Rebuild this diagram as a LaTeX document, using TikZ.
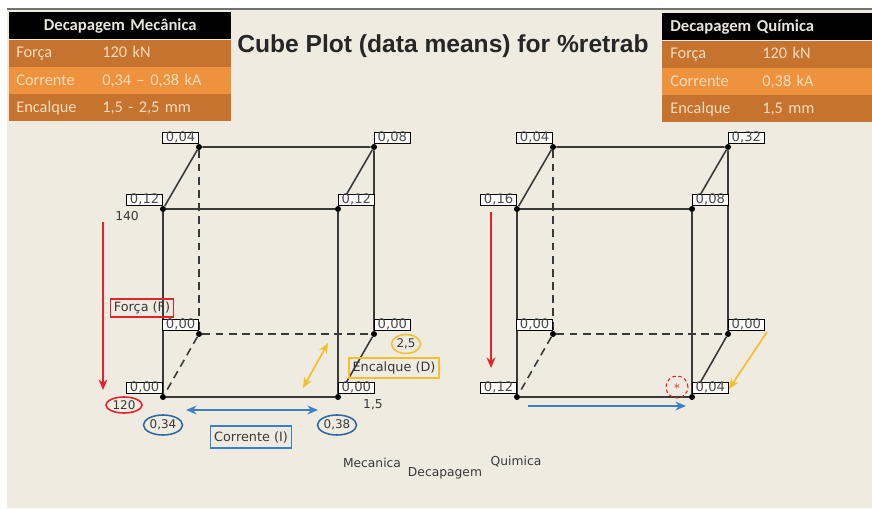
\documentclass[tikz,border=0pt]{standalone}
\usepackage{fontspec}
\setmainfont{DejaVu Sans}
\newfontfamily\tablefont{Carlito}
\newfontfamily\titlefont{Liberation Sans}
\usetikzlibrary{arrows.meta,positioning,shapes.geometric}

\definecolor{paper}{HTML}{EFEBE1}
\definecolor{rust}{HTML}{C6732F}
\definecolor{amber}{HTML}{EF923D}
\definecolor{cream}{HTML}{F7DCBC}
\definecolor{headtext}{HTML}{E6E4DC}
\definecolor{edgegray}{HTML}{3A3A3A}
\definecolor{inkgray}{HTML}{383838}
\definecolor{redmark}{HTML}{E2232B}
\definecolor{bluemark}{HTML}{3A80C6}
\definecolor{ringblue}{HTML}{2F6AA3}
\definecolor{goldmark}{HTML}{F3BF2F}

\begin{document}
\begin{tikzpicture}[x=0.02cm, y=-0.02cm, font=\fontsize{7}{8}\selectfont, text=inkgray,
  thead/.style={fill=black, text=headtext, font=\tablefont\bfseries\fontsize{9.5}{11}\selectfont, minimum height=0.54cm, inner ysep=0pt, anchor=north west},
  trow/.style={text=cream, font=\tablefont\fontsize{9.3}{10}\selectfont, minimum height=0.53cm, inner ysep=0pt},
  dot/.style={circle, fill=black, inner sep=0pt, minimum size=0.12cm},
  cubeline/.style={draw=edgegray, line width=0.9pt},
  hidden/.style={cubeline, dash pattern=on 4.5pt off 3pt},
  val/.style={draw=black, line width=0.4pt, fill=white!85!paper, inner sep=0pt, minimum width=0.72cm, minimum height=0.22cm, text=black!70, font=\fontsize{7.5}{8}\selectfont},
  ring/.style={ellipse, draw, line width=0.9pt, inner sep=0pt, font=\fontsize{6.8}{8}\selectfont},
  tag/.style={draw, line width=0.9pt, inner xsep=2pt, inner ysep=0pt, font=\fontsize{7.3}{8}\selectfont},
  arr/.style={-{Stealth[length=6pt, width=5pt]}, line width=1pt},
  darr/.style={arr, {Stealth[length=6pt, width=5pt]}-{Stealth[length=6pt, width=5pt]}}]
\useasboundingbox (0,0) rectangle (872,509);
\fill[white] (0,0) rectangle (872,509);
\fill[paper] (7,9) rectangle (872,508);
\draw[black!55, line width=1.2pt] (7,9) -- (872,9);

% settings tables
\node[thead, text width=4.16cm, align=center, inner xsep=0.14cm] (mhead) at (9,12) {Decapagem Mecânica};
\node[trow, fill=rust, text width=4.16cm, inner xsep=0.14cm, below=0pt of mhead] (mforce) {\makebox[1.72cm][l]{Força}120 kN};
\node[trow, fill=amber, text width=4.16cm, inner xsep=0.14cm, below=0pt of mforce] (mcurrent) {\makebox[1.72cm][l]{Corrente}0,34 – 0,38 kA};
\node[trow, fill=rust, text width=4.16cm, inner xsep=0.14cm, below=0pt of mcurrent] (mpress) {\makebox[1.72cm][l]{Encalque}1,5 - 2,5 mm};

\node[thead, text width=3.88cm, align=left, inner xsep=0.16cm] (qhead) at (662,13) {Decapagem Química};
\node[trow, fill=rust, text width=3.88cm, inner xsep=0.16cm, below=0pt of qhead] (qforce) {\makebox[1.84cm][l]{Força}120 kN};
\node[trow, fill=amber, text width=3.88cm, inner xsep=0.16cm, below=0pt of qforce] (qcurrent) {\makebox[1.84cm][l]{Corrente}0,38 kA};
\node[trow, fill=rust, text width=3.88cm, inner xsep=0.16cm, below=0pt of qcurrent] (qpress) {\makebox[1.84cm][l]{Encalque}1,5 mm};

\node[anchor=base, text=black!85, font=\titlefont\bfseries\fontsize{14}{16}\selectfont] (title) at (443,53) {Cube Plot (data means) for \%retrab};

% the two cubes, L = mecanica, R = quimica
\foreach \c/\dx in {L/0, R/354} {
  \node[dot] (\c-btl) at (199+\dx,147) {};
  \node[dot] (\c-btr) at (374+\dx,147) {};
  \node[dot] (\c-ftl) at (163+\dx,209) {};
  \node[dot] (\c-ftr) at (338+\dx,209) {};
  \node[dot] (\c-bbl) at (199+\dx,334) {};
  \node[dot] (\c-bbr) at (374+\dx,334) {};
  \node[dot] (\c-fbl) at (163+\dx,397) {};
  \node[dot] (\c-fbr) at (338+\dx,397) {};
  \draw[cubeline] (\c-ftl) -- (\c-ftr) -- (\c-fbr) -- (\c-fbl) -- (\c-ftl);
  \draw[cubeline] (\c-ftl) -- (\c-btl) -- (\c-btr) -- (\c-ftr);
  \draw[cubeline] (\c-btr) -- (\c-bbr) -- (\c-fbr);
  \draw[hidden] (\c-btl) -- (\c-bbl) -- (\c-bbr);
  \draw[hidden] (\c-bbl) -- (\c-fbl);
}

% means at the corners
\foreach \n/\v in {L-btl/{0,04}, L-ftl/{0,12}, L-bbl/{0,00}, L-fbl/{0,00}, R-btl/{0,04}, R-ftl/{0,16}, R-bbl/{0,00}, R-fbl/{0,12}}
  \node[val, anchor=south east] (\n-v) at (\n.north) {\v};
\foreach \n/\v in {L-btr/{0,08}, L-ftr/{0,12}, L-bbr/{0,00}, L-fbr/{0,00}, R-btr/{0,32}, R-ftr/{0,08}, R-bbr/{0,00}, R-fbr/{0,04}}
  \node[val, anchor=south west] (\n-v) at (\n.north) {\v};

% factor marks, left cube
\node (f140) at (127,216) {140};
\node[ring, draw=redmark, minimum width=0.72cm, minimum height=0.32cm] (f120) at (124,405) {120};
\node[tag, draw=redmark, minimum height=0.36cm] (forca) at (142,308) {Força (F)};
\coordinate (fTop) at (103,222);
\coordinate (fEnd) at (103,390);
\draw[arr, redmark] (fTop) -- (fEnd);

\node[ring, draw=ringblue, minimum width=0.78cm, minimum height=0.4cm] (i034) at (163,425) {0,34};
\node[ring, draw=ringblue, minimum width=0.78cm, minimum height=0.4cm] (i038) at (337,425) {0,38};
\node[tag, draw=bluemark, minimum height=0.44cm] (corrente) at (251,437) {Corrente (I)};
\coordinate (iL) at (186,410);
\coordinate (iR) at (318,410);
\draw[darr, bluemark] (iL) -- (iR);

\node (d15) at (373,405) {1,5};
\node[ring, draw=goldmark, minimum width=0.58cm, minimum height=0.38cm] (d25) at (406,344) {2,5};
\node[tag, draw=goldmark, minimum height=0.4cm] (encalque) at (394,368) {Encalque (D)};
\coordinate (dLow) at (303,388);
\coordinate (dHigh) at (328,343);
\draw[darr, goldmark] (dLow) -- (dHigh);

% factor marks, right cube
\coordinate (rfTop) at (491,212);
\coordinate (rfEnd) at (491,368);
\draw[arr, redmark] (rfTop) -- (rfEnd);
\coordinate (riL) at (528,406);
\coordinate (riR) at (686,406);
\draw[arr, bluemark] (riL) -- (riR);
\coordinate (rdTop) at (767,332);
\coordinate (rdEnd) at (729,389);
\draw[arr, goldmark] (rdTop) -- (rdEnd);
\node[circle, draw=redmark, text=redmark, line width=0.6pt, dash pattern=on 2pt off 1.5pt, inner sep=0pt, minimum size=0.44cm] (best) at (677,387) {$\ast$};

% x axis names
\node (mec) at (372,463) {Mecanica};
\node (dec) at (445,473) {Decapagem};
\node (qui) at (516,462) {Quimica};
\end{tikzpicture}
\end{document}
